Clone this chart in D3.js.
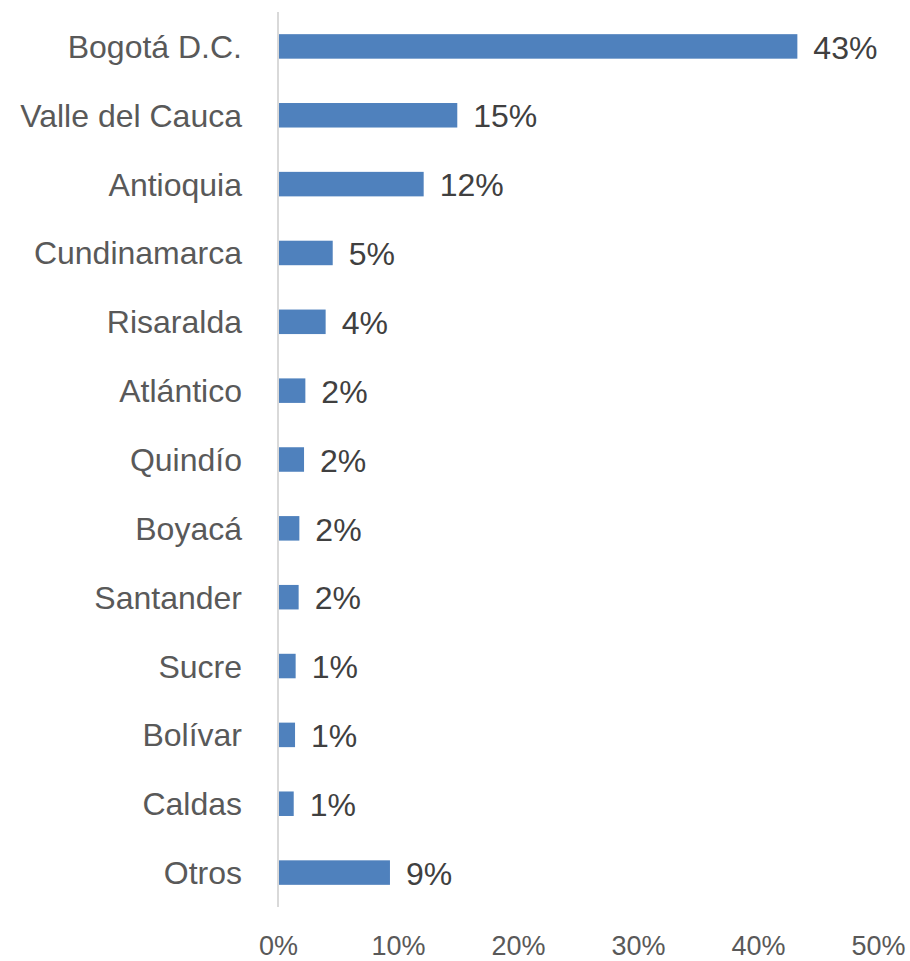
<!DOCTYPE html>
<html>
<head>
<meta charset="utf-8">
<script src="https://cdn.jsdelivr.net/npm/d3@7"></script>
<style>
  html, body { margin: 0; padding: 0; background: #ffffff; }
  svg { display: block; }
  text { font-family: "Liberation Sans", "DejaVu Sans", sans-serif; }
</style>
</head>
<body>
<script>
// Share of total by department (fractions of 1)
const categories = [
  "Bogotá D.C.", "Valle del Cauca", "Antioquia", "Cundinamarca", "Risaralda",
  "Atlántico", "Quindío", "Boyacá", "Santander", "Sucre", "Bolívar", "Caldas", "Otros"
];
const shares = [
  0.4328, 0.1494, 0.1214, 0.0456, 0.0397,
  0.0228, 0.0217, 0.0178, 0.0172, 0.0147, 0.0142, 0.0131, 0.0933
];
const tickValues = [0, 0.1, 0.2, 0.3, 0.4, 0.5];

const width = 910, height = 961;
const plot = { left: 278, right: 878, top: 12, bottom: 907 };

const svg = d3.select("body").append("svg")
  .attr("width", width)
  .attr("height", height);

const x = d3.scaleLinear().domain([0, 0.5]).range([plot.left, plot.right]);
const y = d3.scaleBand()
  .domain(categories)
  .range([plot.top, plot.bottom])
  .paddingInner(0.644)
  .paddingOuter(0.322);

const pct = d3.format(".0%");
const data = categories.map((c, i) => ({ name: c, value: shares[i] }));

// Bars
svg.append("g")
  .selectAll("rect")
  .data(data)
  .join("rect")
  .attr("x", x(0))
  .attr("y", d => y(d.name))
  .attr("width", d => x(d.value) - x(0))
  .attr("height", y.bandwidth())
  .attr("fill", "#4f81bd");

// Vertical category axis line
svg.append("line")
  .attr("x1", x(0)).attr("x2", x(0))
  .attr("y1", plot.top).attr("y2", plot.bottom)
  .attr("stroke", "#d9d9d9")
  .attr("stroke-width", 2);

// Category labels
const yAxis = svg.append("g")
  .attr("transform", `translate(${x(0) - 36},0)`)
  .call(d3.axisLeft(y).tickSize(0).tickPadding(0));
yAxis.select(".domain").remove();
yAxis.selectAll("text")
  .attr("font-size", 32)
  .attr("fill", "#595959")
  .attr("dy", "0.36em")
  .style("font-family", "Liberation Sans, DejaVu Sans, sans-serif");

// Value labels
svg.append("g")
  .selectAll("text")
  .data(data)
  .join("text")
  .attr("x", d => x(d.value) + 16)
  .attr("y", d => y(d.name) + y.bandwidth() / 2)
  .attr("dy", "0.38em")
  .attr("font-size", 32)
  .attr("fill", "#404040")
  .text(d => pct(d.value));

// Percentage axis labels
const xAxis = svg.append("g")
  .attr("transform", `translate(0,${plot.bottom})`)
  .call(d3.axisBottom(x).tickValues(tickValues).tickFormat(pct).tickSize(0).tickPadding(0));
xAxis.select(".domain").remove();
xAxis.selectAll("text")
  .attr("font-size", 27)
  .attr("fill", "#595959")
  .attr("dy", null)
  .attr("y", 48)
  .style("font-family", "Liberation Sans, DejaVu Sans, sans-serif");
</script>
</body>
</html>
